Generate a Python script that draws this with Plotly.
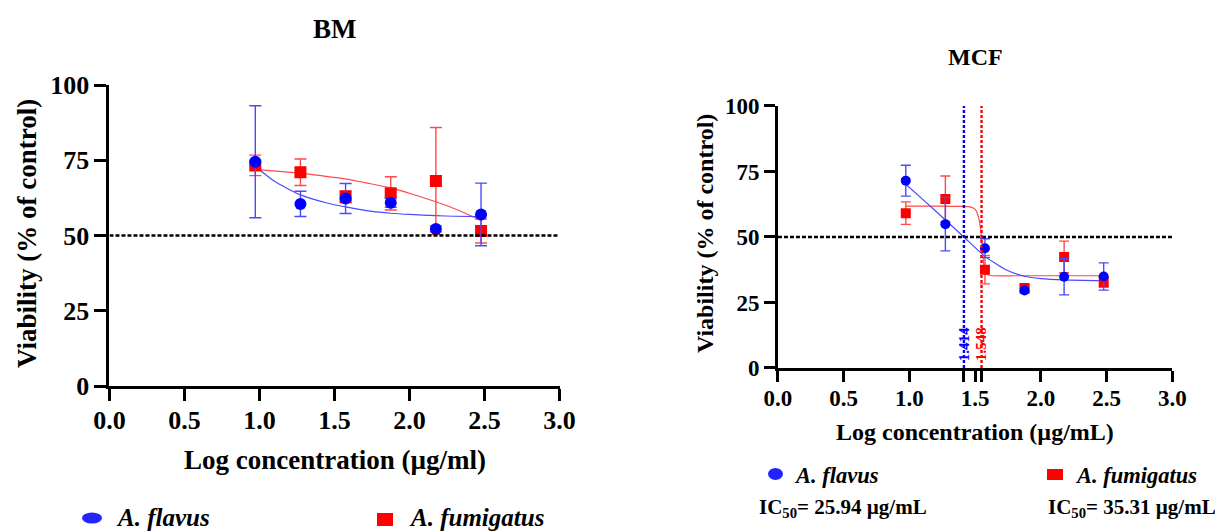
import plotly.graph_objects as go

# ---- data ----
log_conc = [0.972, 1.273, 1.574, 1.875, 2.176, 2.477]

bm_flavus = [74.5, 60.5, 62.3, 60.9, 52.2, 57.0]
bm_flavus_err = [18.6, 4.2, 5.0, 1.5, 1.0, 10.4]
bm_fumig = [73.3, 71.0, 62.9, 64.0, 68.1, 51.5]
bm_fumig_err = [3.4, 4.4, 2.0, 5.5, 17.8, 4.0]

mcf_flavus = [71.5, 54.9, 45.7, 29.6, 34.8, 34.9]
mcf_flavus_err = [5.9, 10.2, 3.6, 1.0, 6.9, 5.2]
mcf_fumig = [59.1, 64.5, 37.5, 30.5, 42.4, 32.8]
mcf_fumig_err = [4.3, 8.8, 5.4, 1.0, 6.0, 2.0]

# fitted curves
bm_flavus_fit_x = [0.972, 1.1, 1.273, 1.45, 1.574, 1.75, 1.875, 2.0, 2.176, 2.3, 2.477]
bm_flavus_fit_y = [73.0, 68.0, 63.5, 60.8, 59.5, 58.0, 57.4, 57.0, 56.6, 56.4, 56.3]
bm_fumig_fit_x = [0.972, 1.273, 1.42, 1.574, 1.72, 1.875, 2.02, 2.176, 2.33, 2.477]
bm_fumig_fit_y = [72.0, 70.7, 69.8, 68.8, 67.4, 65.8, 63.7, 61.2, 58.3, 55.0]

mcf_flavus_fit_x = [0.972, 1.12, 1.273, 1.414, 1.574, 1.73, 1.875, 2.0, 2.176, 2.477]
mcf_flavus_fit_y = [70.1, 63.5, 56.5, 50.0, 42.6, 37.6, 35.0, 34.1, 33.6, 33.3]
mcf_fumig_fit_x = [0.972, 1.2, 1.4, 1.46, 1.50, 1.525, 1.54, 1.548, 1.555, 1.565, 1.58, 1.62, 1.8, 2.2, 2.477]
mcf_fumig_fit_y = [61.8, 61.8, 61.7, 61.5, 60.5, 57.5, 53.5, 50.0, 45.5, 39.5, 36.0, 35.3, 35.2, 35.2, 35.2]

ic50_log_flavus = 1.414
ic50_log_fumig = 1.548
ic50_labels = ["1.414", "1.548"]

x_ticks = [0.0, 0.5, 1.0, 1.5, 2.0, 2.5, 3.0]
x_tick_text = ["0.0", "0.5", "1.0", "1.5", "2.0", "2.5", "3.0"]
y_ticks = [0, 25, 50, 75, 100]

BLUE = "#0000ff"
RED = "#ff0000"
BLUE_L = "#4a4aff"
RED_L = "#ff4a4a"
FONT = "Liberation Serif"

fig = go.Figure()

def add_panel(xa, ya, fl, fle, fu, fue, flfx, flfy, fufx, fufy, msize, cap):
    fig.add_trace(go.Scatter(x=fufx, y=fufy, mode="lines", line=dict(color=RED_L, width=1.2, shape="spline", smoothing=0.6),
                             xaxis=xa, yaxis=ya, showlegend=False, hoverinfo="skip"))
    fig.add_trace(go.Scatter(x=flfx, y=flfy, mode="lines", line=dict(color=BLUE_L, width=1.2, shape="spline", smoothing=0.6),
                             xaxis=xa, yaxis=ya, showlegend=False, hoverinfo="skip"))
    fig.add_trace(go.Scatter(x=log_conc, y=fu, mode="markers",
                             marker=dict(symbol="square", color=RED, size=msize),
                             error_y=dict(type="data", array=fue, color=RED_L, thickness=1.4, width=cap),
                             xaxis=xa, yaxis=ya, showlegend=False, name="A. fumigatus"))
    fig.add_trace(go.Scatter(x=log_conc, y=fl, mode="markers",
                             marker=dict(symbol="circle", color=BLUE, size=msize),
                             error_y=dict(type="data", array=fle, color=BLUE_L, thickness=1.4, width=cap),
                             xaxis=xa, yaxis=ya, showlegend=False, name="A. flavus"))

add_panel("x", "y", bm_flavus, bm_flavus_err, bm_fumig, bm_fumig_err,
          bm_flavus_fit_x, bm_flavus_fit_y, bm_fumig_fit_x, bm_fumig_fit_y, 12, 6)
add_panel("x2", "y2", mcf_flavus, mcf_flavus_err, mcf_fumig, mcf_fumig_err,
          mcf_flavus_fit_x, mcf_flavus_fit_y, mcf_fumig_fit_x, mcf_fumig_fit_y, 10, 5)

axis_common = dict(showgrid=False, zeroline=False, showline=True, linecolor="black",
                   ticks="outside", tickcolor="black", automargin=False, tickangle=0)

fig.update_layout(
    template="none",
    width=1215, height=532, margin=dict(l=0, r=0, t=0, b=0, pad=0),
    paper_bgcolor="white", plot_bgcolor="white",
    font=dict(family=FONT, color="black"),
    xaxis=dict(domain=[0.0901, 0.4605], range=[0, 3], tickvals=x_ticks, ticktext=x_tick_text,
               linewidth=3, ticklen=12, tickwidth=3, anchor="y", ticklabelstandoff=-3,
               tickfont=dict(size=26, family=FONT, weight="bold"), **axis_common),
    yaxis=dict(domain=[0.2744, 0.8402], range=[0, 100], tickvals=y_ticks,
               linewidth=3, ticklen=12, tickwidth=3, anchor="x",
               tickfont=dict(size=26, family=FONT, weight="bold"), **axis_common),
    xaxis2=dict(domain=[0.6403, 0.965], range=[0, 3], tickvals=x_ticks, ticktext=x_tick_text,
                linewidth=2.5, ticklen=11, tickwidth=2.5, anchor="y2", ticklabelstandoff=-3,
                minor=dict(tickvals=[ic50_log_flavus, ic50_log_fumig], ticks="outside",
                           ticklen=11, tickwidth=2.5, tickcolor="black", showgrid=False),
                tickfont=dict(size=23, family=FONT, weight="bold"), **axis_common),
    yaxis2=dict(domain=[0.3083, 0.8008], range=[0, 100], tickvals=y_ticks,
                linewidth=2.5, ticklen=11, tickwidth=2.5, anchor="x2",
                tickfont=dict(size=23, family=FONT, weight="bold"), **axis_common),
)

# 50% reference lines
for xr, yr, w in (("x", "y", 2.6), ("x2", "y2", 2.4)):
    fig.add_shape(type="line", xref=xr, yref=yr, x0=0, x1=3, y0=50, y1=50,
                  line=dict(color="black", width=w, dash="4px,2px"))

# IC50 vertical lines
for xv, col, lab in ((ic50_log_flavus, BLUE, ic50_labels[0]), (ic50_log_fumig, RED, ic50_labels[1])):
    fig.add_shape(type="line", xref="x2", yref="y2", x0=xv, x1=xv, y0=0, y1=100,
                  line=dict(color=col, width=2.4, dash="3px,2px"))
    fig.add_annotation(x=xv, y=9, xref="x2", yref="y2", text=f"<b>{lab}</b>", showarrow=False,
                       textangle=-90, font=dict(size=15, color=col, family=FONT))

def txt(x, y, s, size, xanchor="center", yanchor="middle", angle=0):
    fig.add_annotation(x=x / 1215, y=1 - y / 532, xref="paper", yref="paper", text=s,
                       showarrow=False, xanchor=xanchor, yanchor=yanchor, textangle=angle,
                       font=dict(size=size, family=FONT, color="black"))

# titles
txt(335, 29, "<b>BM</b>", 27)
txt(975, 57, "<b>MCF</b>", 24)
# axis titles
txt(27, 234, "<b>Viability (% of control)</b>", 27, angle=-90)
txt(335, 460, "<b>Log concentration (µg/ml)</b>", 27)
txt(705, 234, "<b>Viability (% of control)</b>", 24, angle=-90)
txt(975, 432, "<b>Log concentration (µg/mL)</b>", 24)

# legends
def ell(cx, cy, w, h, col):
    fig.add_shape(type="circle", xref="paper", yref="paper",
                  x0=(cx - w / 2) / 1215, x1=(cx + w / 2) / 1215,
                  y0=1 - (cy + h / 2) / 532, y1=1 - (cy - h / 2) / 532,
                  fillcolor=col, line=dict(width=0))

def sq(cx, cy, w, h, col):
    fig.add_shape(type="rect", xref="paper", yref="paper",
                  x0=(cx - w / 2) / 1215, x1=(cx + w / 2) / 1215,
                  y0=1 - (cy + h / 2) / 532, y1=1 - (cy - h / 2) / 532,
                  fillcolor=col, line=dict(width=0))

ell(92, 518, 20, 11, "#2323ff")
txt(114, 517, "<b><i>A. flavus</i></b>", 25, xanchor="left")
sq(385, 519.5, 16, 13, RED)
txt(407, 517, "<b><i>A. fumigatus</i></b>", 25, xanchor="left")

ell(775.5, 474, 15, 12, "#2323ff")
txt(792, 475, "<b><i>A. flavus</i></b>", 22.5, xanchor="left")
sq(1055, 474.5, 16, 11, RED)
txt(1073, 475, "<b><i>A. fumigatus</i></b>", 22.5, xanchor="left")

txt(757, 508, "<b>IC<sub>50</sub>= 25.94 µg/mL</b>", 21, xanchor="left")
txt(1046, 508, "<b>IC<sub>50</sub>= 35.31 µg/mL</b>", 21, xanchor="left")

fig.write_html("out.html")
